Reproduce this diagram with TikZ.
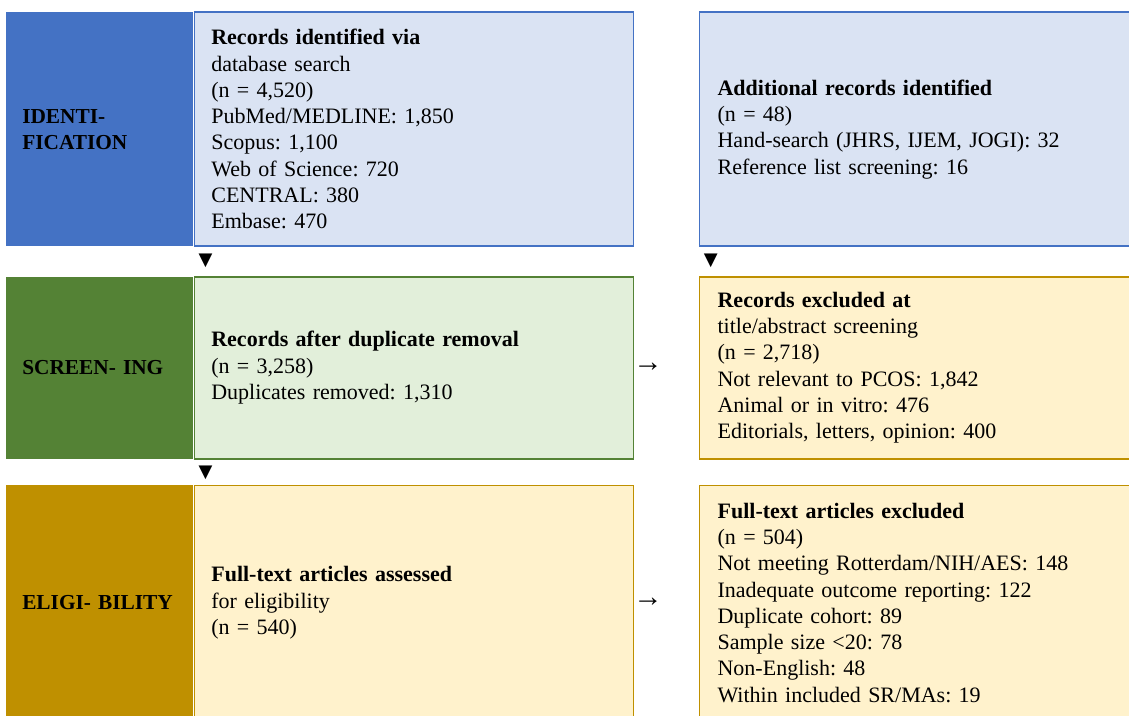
\documentclass[tikz,border=0pt]{standalone}
\usepackage{fontspec}
\setmainfont{Liberation Serif}
\newfontfamily\symfont{DejaVu Sans}
\usetikzlibrary{positioning,calc}
\frenchspacing

\definecolor{idblue}{HTML}{4472C4}
\definecolor{idpale}{HTML}{DAE3F3}
\definecolor{scgreen}{HTML}{548235}
\definecolor{scpale}{HTML}{E2EFDA}
\definecolor{elgold}{HTML}{BF9000}
\definecolor{elpale}{HTML}{FFF2CC}

\tikzset{
  txt/.style={font=\fontsize{16.5}{19.7}\selectfont},
  stagebox/.style={txt, font=\bfseries\fontsize{16}{19.7}\selectfont, inner sep=0pt,
    inner xsep=12pt, text width=116.25pt, minimum width=140.25pt, align=left},
  mainbox/.style={txt, line width=1.2pt, inner sep=0pt, inner xsep=12.75pt,
    text width=303.75pt, minimum width=329.25pt, align=left},
  sidebox/.style={txt, line width=1.2pt, inner sep=0pt, inner xsep=13.5pt,
    text width=297.75pt, minimum width=324.75pt, align=left},
  downmark/.style={font=\symfont\fontsize{13.5}{13.5}\selectfont, inner sep=0pt},
  rightmark/.style={font=\fontsize{22}{22}\selectfont, inner sep=0pt}
}

\begin{document}
\begin{tikzpicture}[x=1pt, y=-1pt]
\useasboundingbox (0,0) rectangle (846.75,536.25);

% identification row
\node (idlab) [stagebox, fill=idblue, minimum height=175.5pt, anchor=north west] at (4.5,9)
  {IDENTI-\\FICATION};
\node (idmain) [mainbox, fill=idpale, draw=idblue, minimum height=175.5pt, right=0pt of idlab]
  {\textbf{Records identified via}\\
   database search\\
   (n = 4,520)\\
   PubMed/MEDLINE: 1,850\\
   Scopus: 1,100\\
   Web of Science: 720\\
   CENTRAL: 380\\
   Embase: 470};
\node (idside) [sidebox, fill=idpale, draw=idblue, minimum height=175.5pt, right=48.5pt of idmain]
  {\textbf{Additional records identified}\\
   (n = 48)\\
   Hand-search (JHRS, IJEM, JOGI): 32\\
   Reference list screening: 16};

% screening row
\node (sclab) [stagebox, fill=scgreen, minimum height=136.5pt, below=22.5pt of idlab]
  {\mbox{SCREEN- ING}};
\node (scmain) [mainbox, fill=scpale, draw=scgreen, minimum height=136.5pt, right=0pt of sclab]
  {\textbf{Records after duplicate removal}\\
   (n = 3,258)\\
   Duplicates removed: 1,310};
\node (scside) [sidebox, fill=elpale, draw=elgold, minimum height=136.5pt, right=48.5pt of scmain]
  {\textbf{Records excluded at}\\
   title/abstract screening\\
   (n = 2,718)\\
   Not relevant to PCOS: 1,842\\
   Animal or in vitro: 476\\
   Editorials, letters, opinion: 400};

% eligibility row
\node (ellab) [stagebox, fill=elgold, minimum height=176.25pt, below=19.5pt of sclab]
  {\mbox{ELIGI- BILITY}};
\node (elmain) [mainbox, fill=elpale, draw=elgold, minimum height=176.25pt, right=0pt of ellab]
  {\textbf{Full-text articles assessed}\\
   for eligibility\\
   (n = 540)};
\node (elside) [sidebox, fill=elpale, draw=elgold, minimum height=176.25pt, right=48.5pt of elmain]
  {\textbf{Full-text articles excluded}\\
   (n = 504)\\
   Not meeting Rotterdam/NIH/AES: 148\\
   Inadequate outcome reporting: 122\\
   Duplicate cohort: 89\\
   Sample size <20: 78\\
   Non-English: 48\\
   Within included SR/MAs: 19};

% flow marks
\node (dn1) [downmark] at ($(idmain.south west)+(9pt,-10.5pt)$) {▼};
\node (dn2) [downmark] at ($(idside.south west)+(9pt,-10.5pt)$) {▼};
\node (dn3) [downmark] at ($(scmain.south west)+(9pt,-9.75pt)$) {▼};
\node (rt1) [rightmark] at ($(scmain.east)+(10.5pt,0)$) {→};
\node (rt2) [rightmark] at ($(elmain.east)+(10.5pt,0)$) {→};
\end{tikzpicture}
\end{document}
